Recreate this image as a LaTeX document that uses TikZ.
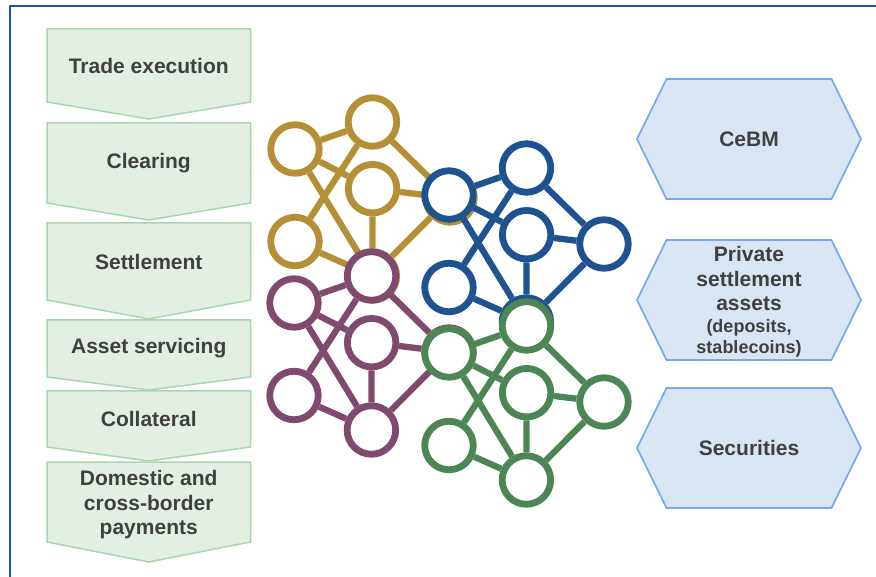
\documentclass[tikz,border=0pt]{standalone}
\usepackage{fontspec}
\setmainfont{Liberation Sans}
\usepackage{tikz}
\usetikzlibrary{positioning}
\definecolor{framblue}{HTML}{1F4FBF}
\definecolor{chevfill}{HTML}{E3EFE3}
\definecolor{chevline}{HTML}{A8D6B0}
\definecolor{hexfill}{HTML}{DAE5F3}
\definecolor{hexline}{HTML}{78A5F5}
\definecolor{txtgray}{HTML}{404040}
\definecolor{netgold}{HTML}{B48F36}
\definecolor{netblue}{HTML}{1F538F}
\definecolor{netpurple}{HTML}{7F4A6D}
\definecolor{netgreen}{HTML}{4C8655}

\begin{document}
\begin{tikzpicture}[
            x=1pt, y=-1pt,
            stepbox/.style={draw=chevline, fill=chevfill, line width=1.5pt},
            steptext/.style={font=\bfseries\fontsize{21}{24.5}\selectfont, text=txtgray, align=center, inner sep=0pt},
            hexbox/.style={draw=hexline, fill=hexfill, line width=1.7pt},
            peer/.style={circle, draw, fill=white, line width=6.8pt, minimum size=48.5pt, inner sep=0pt},
            link/.style={line width=6.3pt}
        ]
        \useasboundingbox (0,0) rectangle (876,577);

        % Frame
        \draw[framblue, line width=2pt] (9.5,577) |- (876,6);

        % Process steps
        \foreach \top/\side/\tip/\nm/\txt/\dy in {29/102/119/trade/{Trade execution}/0,
                123/203/220/clear/Clearing/0, 223/300/319/settle/Settlement/0,
                320/377/390/asset/{Asset servicing}/0, 391/447/461/coll/Collateral/0,
                462/542/562/pay/{Domestic and\\cross-border\\payments}/3} {
                \draw[stepbox] (47,\top) -- (250.5,\top) -- (250.5,\side) -- (148.75,\tip) -- (47,\side) -- cycle;
                \node[steptext] (\nm) at (148.75,{(\top+\side)/2+\dy}) {\txt};
            }

        % Network of ledgers
        \foreach \g/\col/\ox/\oy in {gd/netgold/295/149, bl/netblue/449/195, pu/netpurple/294/303, gr/netgreen/449/353} {
                \foreach \n/\dx/\dy in {A/0/0, B/77.5/-27, C/77.6/39.7, D/0/92.5, E/77.4/127, F/155/49} {
                        \node[peer, draw=\col] (\g\n) at ({\ox+\dx},{\oy+\dy}) {};
                    }
                \foreach \u/\v in {A/B, A/C, A/E, B/D, B/F, C/F, C/E, D/E, E/F} {
                        \draw[link, \col] (\g\u) -- (\g\v);
                    }
            }

        % Settlement assets
        \foreach \cy/\nm/\txt/\dy in {139/cebm/CeBM/0,
                300/priv/{\fontsize{21}{26}\selectfont Private\\settlement\\assets\\[-3pt]{\fontsize{18}{23}\selectfont(deposits,}\\[-3pt]{\fontsize{18}{23}\selectfont stablecoins)}}/2,
                448/sec/Securities/0} {
                \draw[hexbox] (637,\cy) -- (666.5,{\cy-60}) -- (831.5,{\cy-60}) -- (861,\cy) -- (831.5,{\cy+60}) -- (666.5,{\cy+60}) -- cycle;
                \node[steptext] (\nm) at (749,{\cy+\dy}) {\txt};
            }
    \end{tikzpicture}
\end{document}
